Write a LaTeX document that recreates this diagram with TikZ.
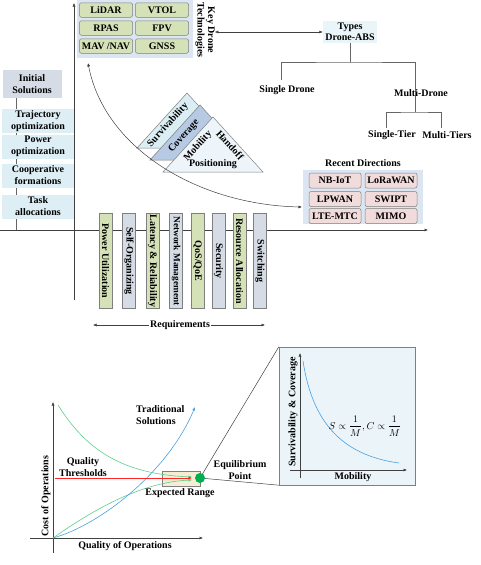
\documentclass[tikz,border=0pt]{standalone}
\usepackage{fontspec}
\setmainfont{Liberation Serif}
\usetikzlibrary{arrows.meta,backgrounds}
\definecolor{solcyan}{HTML}{DDEEF5}
\definecolor{initgray}{HTML}{D6DCE5}
\definecolor{keybg}{HTML}{DCE6F2}
\definecolor{techgreen}{HTML}{D5E2B8}
\definecolor{rdpink}{HTML}{F2DCDB}
\definecolor{typebg}{HTML}{EAF5FA}
\definecolor{barblue}{HTML}{D6DCE5}
\definecolor{triback}{HTML}{DAEEF4}
\definecolor{trimid}{HTML}{B7CAE3}
\definecolor{trifront}{HTML}{EEF5FA}
\definecolor{beige}{HTML}{F6EDD5}
\definecolor{dotgreen}{HTML}{00B050}
\definecolor{curvegreen}{HTML}{5CCF8A}
\definecolor{curveblue}{HTML}{4A9FE0}
\definecolor{insetbg}{HTML}{EBF4F9}
\definecolor{edge}{HTML}{7F7F7F}
\definecolor{axis}{HTML}{404040}
\begin{document}
\begin{tikzpicture}[x=1pt,y=-1pt,
  font=\bfseries\fontsize{10}{11}\selectfont,
  >={Latex[length=3.5pt,width=3pt]},
  box/.style={draw=edge, line width=0.5pt, inner sep=0pt, align=center},
  tech/.style={box, fill=techgreen, rounded corners=2pt, minimum width=53pt, minimum height=14.5pt},
  rdbox/.style={box, fill=rdpink, rounded corners=2pt, minimum width=52pt, minimum height=15pt},
  sol/.style={fill=solcyan, inner sep=0pt, align=center, minimum width=72pt, minimum height=24pt, font=\bfseries\fontsize{10}{12}\selectfont},
  reqbar/.style={box, rotate=-90, minimum width=95pt, minimum height=13pt},
  axisline/.style={draw=axis, line width=0.5pt},
  thin/.style={draw=edge!80!black, line width=0.5pt},
  lbl/.style={inner sep=0pt, align=center}
]
\useasboundingbox (0,0) rectangle (481,565);

% ---------- top part: axes ----------
\coordinate (vbot) at (74,300);
\coordinate (vtop) at (74,3);
\coordinate (hl) at (0,230);
\coordinate (hr) at (428,230);
\draw[axisline,->] (vbot) -- (vtop);
\draw[axisline,->] (hl) -- (hr);

% ---------- left column ----------
\node[fill=initgray, inner sep=0pt, align=center, minimum width=59pt, minimum height=28pt, font=\bfseries\fontsize{10}{12}\selectfont] (init) at (32,84) {Initial\\Solutions};
\node[sol] (traj) at (38,121) {Trajectory\\optimization};
\node[sol] (pow) at (38,146.5) {Power\\optimization};
\node[sol] (coop) at (38,175.5) {Cooperative\\formations};
\node[sol] (task) at (38,206.5) {Task\\allocations};
\coordinate (lc) at (16,230);
\begin{scope}[on background layer]
\draw[thin] (init.south -| lc) -- (lc);
\end{scope}

% ---------- key drone technologies ----------
\node[fill=keybg, minimum width=116pt, minimum height=58pt, inner sep=0pt] (keybg) at (135,29) {};
\node[tech] (lidar) at (106,10) {LiDAR};
\node[tech] (vtol) at (162,10) {VTOL};
\node[tech] (rpas) at (106,28) {RPAS};
\node[tech] (fpv) at (162,28) {FPV};
\node[tech] (mav) at (106,46) {MAV /NAV};
\node[tech] (gnss) at (162,46) {GNSS};
\node[lbl, rotate=-90, font=\bfseries\fontsize{10}{10.5}\selectfont] (keylbl) at (205,30) {Key Drone\\Technologies};

% ---------- types tree ----------
\node[fill=typebg, inner sep=0pt, align=center, minimum width=54pt, minimum height=22pt] (types) at (350,32) {Types\\Drone-ABS};
\draw[axisline,<->] (types.west -| keylbl.north) -- (types.west);
\node[lbl] (single) at (287,90) {Single Drone};
\node[lbl] (multi) at (421,93) {Multi-Drone};
\node[lbl] (stier) at (392,135) {Single-Tier};
\node[lbl] (mtier) at (447,135) {Multi-Tiers};
\coordinate (j1) at (350,62);
\coordinate (tl) at (281,80);
\coordinate (tr) at (415,85);
\coordinate (j2) at (415,112);
\coordinate (b1) at (386,128);
\coordinate (b2) at (441,128);
\draw[thin] (types.south) -- (j1);
\draw[thin] (tl) |- (j1) -| (tr);
\begin{scope}[on background layer]
\draw[thin] (tr) -- (j2);
\end{scope}
\draw[thin] (b1) |- (j2) -| (b2);

% ---------- triangles ----------
\filldraw[fill=triback, draw=edge, line width=0.5pt] (137,148) -- (187,93) -- (237,148) -- cycle;
\filldraw[fill=trimid, draw=edge, line width=0.5pt] (150,160) -- (200,105) -- (250,160) -- cycle;
\filldraw[fill=trifront, draw=edge, line width=0.5pt] (163,172) -- (213,117) -- (263,172) -- cycle;
\node[lbl, rotate=48] (surv) at (168,125) {Survivability};
\node[lbl, rotate=48] (cov) at (184,136) {Coverage};
\node[lbl, rotate=48] (mob) at (198,146) {Mobility};
\node[lbl, rotate=-48] (hand) at (230,145) {Handoff};
\node[lbl] (posi) at (213,164) {Positioning};

% ---------- recent directions ----------
\node[lbl] (rdtitle) at (363,163) {Recent Directions};
\node[fill=keybg, minimum width=120pt, minimum height=54pt, inner sep=0pt] (rdbg) at (363,197) {};
\node[rdbox] (nbiot) at (335,180.5) {NB-IoT};
\node[rdbox] (lora) at (391,180.5) {LoRaWAN};
\node[rdbox] (lpwan) at (335,199) {LPWAN};
\node[rdbox] (swipt) at (391,199) {SWIPT};
\node[rdbox] (lte) at (335,216) {LTE-MTC};
\node[rdbox] (mimo) at (391,216) {MIMO};

% ---------- curved arrow ----------
\coordinate (ca) at (88,63);
\coordinate (cb) at (302,207);
\draw[axisline,<->] (ca) .. controls (105,150) and (200,205) .. (cb);

% ---------- requirement bars ----------
\node[reqbar, fill=techgreen] (r1) at (105.5,261) {Power Utilization};
\node[reqbar, fill=barblue] (r2) at (129,261) {Self-Organizing};
\node[reqbar, fill=techgreen] (r3) at (152.5,261) {Latency \& Reliability};
\node[reqbar, fill=barblue, font=\bfseries\fontsize{9.3}{10}\selectfont] (r4) at (176,261) {Network Management};
\node[reqbar, fill=techgreen] (r5) at (197.5,261) {QoS/QoE};
\node[reqbar, fill=barblue] (r6) at (218.5,261) {Security};
\node[reqbar, fill=techgreen] (r7) at (239.5,261) {Resource Allocation};
\node[reqbar, fill=barblue] (r8) at (260,261) {Switching};
\coordinate (ra) at (93,325);
\coordinate (rb) at (265,325);
\draw[axisline,<->] (ra) -- (rb);
\node[fill=white, inner sep=1pt] (req) at (180,325) {Requirements};

% ---------- bottom-left chart ----------
\node[draw=edge, fill=beige, minimum width=38pt, minimum height=15pt, inner sep=0pt] (erange) at (181,478.5) {};
\coordinate (ya) at (53,553);
\coordinate (yb) at (53,402);
\coordinate (xa) at (30,538);
\coordinate (xb) at (203,538);
\coordinate (O) at (53,538);
\draw[axisline,->] (ya) -- (yb);
\draw[axisline,->] (xa) -- (xb);
\coordinate (g1s) at (58,405);
\coordinate (g1e) at (192,477);
\coordinate (g2e) at (192,480);
\coordinate (bl) at (195,407);
\coordinate (reds) at (55,478);
\coordinate (rede) at (192,478);
\draw[curvegreen, line width=0.6pt, ->] (g1s) .. controls (85,448) and (120,474) .. (g1e);
\draw[curvegreen, line width=0.6pt, ->] (O) .. controls (90,512) and (140,482) .. (g2e);
\draw[curveblue, line width=0.6pt, ->] (O) .. controls (100,525) and (168,472) .. (bl);
\draw[red!85!white, line width=0.6pt, ->] (reds) -- (rede);
\node[lbl, rotate=90] (costlbl) at (46,496) {Cost of Operations};
\node[lbl] (qoplbl) at (125,546) {Quality of Operations};
\node[lbl, font=\bfseries\fontsize{10}{11.5}\selectfont] (qthr) at (83,467) {Quality\\Thresholds};
\node[lbl, align=left, anchor=west, font=\bfseries\fontsize{10}{11.5}\selectfont] (trad) at (136,415) {Traditional\\Solutions};
\node[lbl] (erlbl) at (180,493) {Expected Range};
\node[lbl, font=\bfseries\fontsize{10}{11.5}\selectfont] (eqlbl) at (240,470) {Equilibrium\\Point};

% ---------- inset ----------
\node[draw=edge, fill=insetbg, minimum width=136pt, minimum height=138pt, inner sep=0pt] (inset) at (347,416) {};
\node[circle, fill=dotgreen, minimum size=10pt, inner sep=0pt] (eq) at (200,478) {};
\begin{scope}[on background layer]
\draw[axisline] (eq.center) -- (inset.north west);
\draw[axisline] (eq.center) -- (inset.south west);
\end{scope}
\coordinate (iya) at (300,478);
\coordinate (iyb) at (300,353);
\coordinate (ixa) at (290,470);
\coordinate (ixb) at (407,470);
\draw[axisline,->] (iya) -- (iyb);
\draw[axisline,->] (ixa) -- (ixb);
\coordinate (hs) at (303,361);
\coordinate (he) at (399,463);
\draw[curveblue, line width=0.6pt] (hs) .. controls (312,420) and (340,455) .. (he);
\node[lbl, rotate=90] (svlbl) at (293,412) {Survivability \& Coverage};
\node[lbl] (moblbl) at (353,477) {Mobility};
\node[lbl, font=\normalfont\fontsize{10}{11}\selectfont] (formula) at (365,426) {$S\propto\displaystyle\frac{1}{M},C\propto\frac{1}{M}$};
\end{tikzpicture}
\end{document}
